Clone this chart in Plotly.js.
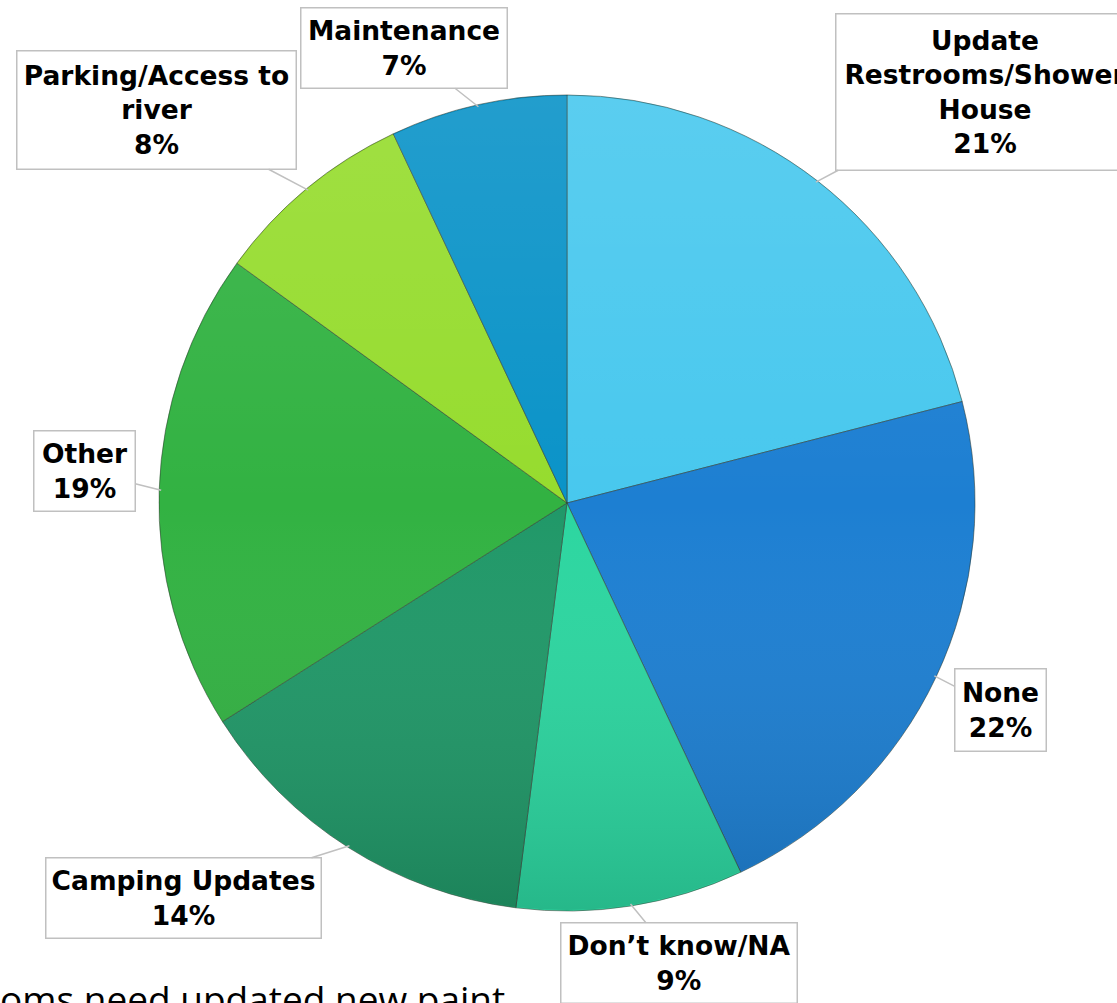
<!DOCTYPE html>
<html><head><meta charset="utf-8">
<script src="https://cdn.plot.ly/plotly-3.0.1.min.js"></script>
<style>html,body{margin:0;padding:0;background:#fff;overflow:hidden}</style>
</head><body><div id="chart" style="width:1117px;height:1003px"></div>
<script>
// ---- data ----
const categories = ['Update Restrooms/Shower House', 'None', 'Don\u2019t know/NA', 'Camping Updates', 'Other', 'Parking/Access to river', 'Maintenance'];
const labelLines = ['Update<br>Restrooms/Shower<br>House', 'None', 'Don\u2019t know/NA', 'Camping Updates', 'Other', 'Parking/Access to<br>river', 'Maintenance'];
const values = [21, 22, 9, 14, 19, 8, 7];
const colors = ['#48C8EE', '#1D7FD2', '#2CD6A0', '#209868', '#32B242', '#96DC2E', '#0A93C8'];
const footText = 'oms need updated new paint';

// ---- layout constants ----
const W = 1117, H = 1003;
const domX = [0.1423, 0.8729], domY = [0.0917, 0.9053];
const cx = (domX[0] + domX[1]) / 2 * W;
const cy = (1 - (domY[0] + domY[1]) / 2) * H;
const R = Math.min((domX[1] - domX[0]) * W, (domY[1] - domY[0]) * H) / 2;
// label boxes (center x, center y, width, height) in pixels
const boxes = [
  {x: 985, y: 92, w: 300, h: 158},
  {x: 1000.5, y: 710, w: 93, h: 84},
  {x: 679, y: 963, w: 238, h: 82},
  {x: 183.5, y: 898, w: 277, h: 82},
  {x: 84.5, y: 471, w: 103, h: 82},
  {x: 156.5, y: 110, w: 281, h: 120},
  {x: 404, y: 48, w: 208, h: 82}
];

const total = values.reduce((a, b) => a + b, 0);
let cum = 0;
const annotations = [];
const bw = 1.5;
values.forEach((v, i) => {
  const mid = (cum + v / 2) / total * 2 * Math.PI;
  cum += v;
  const tx = cx + (R - 2) * Math.sin(mid);
  const ty = cy - (R - 2) * Math.cos(mid);
  const b = boxes[i];
  annotations.push({
    xref: 'paper', yref: 'paper',
    x: tx / W, y: 1 - ty / H,
    ax: b.x - tx, ay: b.y - ty,
    showarrow: true, arrowhead: 0, arrowwidth: 1.5, arrowcolor: '#c0c0c0',
    standoff: 0, startstandoff: 0,
    text: '<b>' + labelLines[i] + '<br>' + values[i] + '%</b>',
    font: {family: 'DejaVu Sans', size: 26.5, color: '#000'},
    align: 'center', valign: 'middle',
    bgcolor: '#ffffff', bordercolor: '#c0c0c0', borderwidth: bw, borderpad: 0,
    width: b.w - 2 * bw, height: b.h - 2 * bw
  });
});
annotations.push({
  xref: 'paper', yref: 'paper', x: -2 / W, y: 1 - 998 / H,
  xanchor: 'left', yanchor: 'middle', showarrow: false,
  text: footText, font: {family: 'Open Sans', size: 37, color: '#000'}
});

// subtle vertical shading over the pie (style only)
const shadeSvg = '<svg xmlns="http://www.w3.org/2000/svg" width="816" height="816" viewBox="0 0 816 816">' +
  '<defs><linearGradient id="g" x1="0" y1="0" x2="0" y2="1">' +
  '<stop offset="0" stop-color="#ffffff" stop-opacity="0.10"/>' +
  '<stop offset="0.5" stop-color="#ffffff" stop-opacity="0"/>' +
  '<stop offset="1" stop-color="#000000" stop-opacity="0.14"/>' +
  '</linearGradient></defs>' +
  '<circle cx="408" cy="408" r="407" fill="url(#g)"/></svg>';

const trace = {
  type: 'pie',
  labels: categories, values: values,
  sort: false, direction: 'clockwise', rotation: 0,
  marker: {colors: colors, line: {color: 'rgba(50,60,50,0.55)', width: 1}},
  textinfo: 'none', hoverinfo: 'label+percent',
  domain: {x: domX, y: domY},
  showlegend: false
};

Plotly.newPlot('chart', [trace], {
  width: W, height: H,
  margin: {l: 0, r: 0, t: 0, b: 0},
  paper_bgcolor: '#ffffff', plot_bgcolor: '#ffffff',
  showlegend: false,
  images: [{
    source: 'data:image/svg+xml;charset=utf-8,' + encodeURIComponent(shadeSvg),
    xref: 'paper', yref: 'paper', x: domX[0], y: domY[1],
    sizex: domX[1] - domX[0], sizey: domY[1] - domY[0],
    xanchor: 'left', yanchor: 'top', sizing: 'stretch', layer: 'above'
  }],
  annotations: annotations
}, {displayModeBar: false, staticPlot: true});
</script></body></html>
